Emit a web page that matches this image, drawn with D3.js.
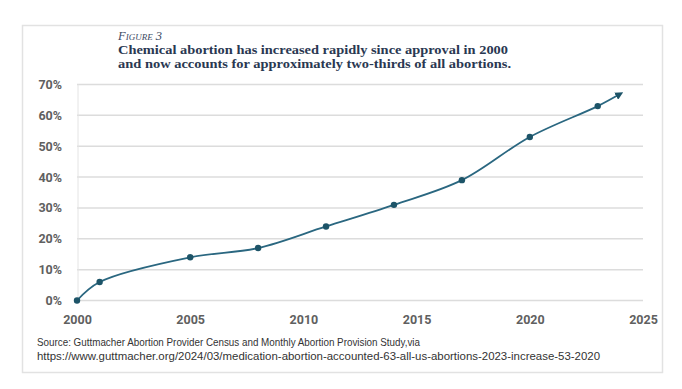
<!DOCTYPE html>
<html>
<head>
<meta charset="utf-8">
<script src="https://cdn.jsdelivr.net/npm/d3@7"></script>
<style>
  body { margin: 0; background: #fff; }
  svg { display: block; }
</style>
</head>
<body>
<div id="chart"></div>
<script>
// data
var years = [2000, 2001, 2005, 2008, 2011, 2014, 2017, 2020, 2023, 2024];
var shares = [0, 6, 14, 17, 24, 31, 39, 53, 63, 67];
var yTicks = [0, 10, 20, 30, 40, 50, 60, 70];
var xTicks = [2000, 2005, 2010, 2015, 2020, 2025];

var titleLines = [
  "Chemical abortion has increased rapidly since approval in 2000",
  "and now accounts for approximately two-thirds of all abortions."
];
var sourceLines = [
  "Source: Guttmacher Abortion Provider Census and Monthly Abortion Provision Study,via",
  "https://www.guttmacher.org/2024/03/medication-abortion-accounted-63-all-us-abortions-2023-increase-53-2020"
];

var svgWidth = 682;
var svgHeight = 389;

var plot = { left: 77, right: 643, top: 84.5, bottom: 300.5 };

var svg = d3.select("#chart")
  .append("svg")
  .attr("width", svgWidth)
  .attr("height", svgHeight);

// frame
svg.append("rect")
  .attr("x", 22.5)
  .attr("y", 25.5)
  .attr("width", 640)
  .attr("height", 347)
  .attr("fill", "#fff")
  .attr("stroke", "#e2e2e2")
  .attr("stroke-width", 1.5);

// heading
svg.append("text")
  .attr("x", 118)
  .attr("y", 40)
  .attr("font-family", "Liberation Serif, serif")
  .attr("font-style", "italic")
  .attr("font-size", "12.5px")
  .attr("fill", "#3d4a63")
  .style("font-variant", "small-caps")
  .text("Figure 3");

svg.selectAll(".title")
  .data(titleLines)
  .enter()
  .append("text")
  .attr("class", "title")
  .attr("x", 118)
  .attr("y", (d, i) => 54 + i * 14)
  .attr("font-family", "Liberation Serif, serif")
  .attr("font-weight", "bold")
  .attr("font-size", "12.5px")
  .attr("fill", "#2a3852")
  .attr("textLength", (d, i) => i === 0 ? 390 : 393)
  .attr("lengthAdjust", "spacingAndGlyphs")
  .text(d => d);

var x = d3.scaleLinear()
  .domain([2000, 2025])
  .range([plot.left, plot.right]);

var y = d3.scaleLinear()
  .domain([0, 70])
  .range([plot.bottom, plot.top]);

// gridlines
svg.append("g")
  .selectAll("line")
  .data(yTicks)
  .enter()
  .append("line")
  .attr("x1", plot.left)
  .attr("x2", plot.right)
  .attr("y1", d => y(d))
  .attr("y2", d => y(d))
  .attr("stroke", "#dcdcdc")
  .attr("stroke-width", 1.5);

svg.append("line")
  .attr("x1", plot.left + 1)
  .attr("x2", plot.left + 1)
  .attr("y1", y(70))
  .attr("y2", y(0))
  .attr("stroke", "#e4e4e4")
  .attr("stroke-width", 1);

// axes (labels only)
var leftAxis = d3.axisLeft(y)
  .tickValues(yTicks)
  .tickFormat(d => d + "%")
  .tickSize(0)
  .tickPadding(15);

var bottomAxis = d3.axisBottom(x)
  .tickValues(xTicks)
  .tickFormat(d3.format("d"))
  .tickSize(0)
  .tickPadding(15);

var gy = svg.append("g")
  .attr("transform", `translate(${plot.left}, 0)`)
  .call(leftAxis);

var gx = svg.append("g")
  .attr("transform", `translate(0, ${plot.bottom})`)
  .call(bottomAxis);

[gx, gy].forEach(function(g) {
  g.select(".domain").remove();
  g.selectAll("text")
    .attr("font-family", "Roboto, Arial, sans-serif")
    .attr("font-weight", "bold")
    .attr("font-size", "12.5px")
    .attr("fill", "#606060");
});

// arrow marker
svg.append("defs")
  .append("marker")
  .attr("id", "arrow")
  .attr("viewBox", "0 0 10 10")
  .attr("refX", 6)
  .attr("refY", 5)
  .attr("markerWidth", 4.5)
  .attr("markerHeight", 4.5)
  .attr("orient", "auto")
  .append("path")
  .attr("d", "M0,0 L10,5 L0,10 z")
  .attr("fill", "#1d5468");

var points = years.map((yr, i) => [yr, shares[i]]);

var line = d3.line()
  .x(d => x(d[0]))
  .y(d => y(d[1]))
  .curve(d3.curveCatmullRom.alpha(0.5));

svg.append("path")
  .datum(points)
  .attr("d", line)
  .attr("fill", "none")
  .attr("stroke", "#2a6780")
  .attr("stroke-width", 1.8)
  .attr("marker-end", "url(#arrow)");

svg.selectAll(".dot")
  .data(points.slice(0, points.length - 1))
  .enter()
  .append("circle")
  .attr("class", "dot")
  .attr("cx", d => x(d[0]))
  .attr("cy", d => y(d[1]))
  .attr("r", 3.2)
  .attr("fill", "#1d5468");

// source
svg.selectAll(".source")
  .data(sourceLines)
  .enter()
  .append("text")
  .attr("class", "source")
  .attr("x", 37)
  .attr("y", (d, i) => 346 + i * 13.5)
  .attr("font-family", "Liberation Sans Narrow, Arial Narrow, sans-serif")
  .attr("font-size", "10.5px")
  .attr("fill", "#333")
  .attr("textLength", (d, i) => i === 0 ? 383 : 563)
  .attr("lengthAdjust", "spacingAndGlyphs")
  .text(d => d);
</script>
</body>
</html>
